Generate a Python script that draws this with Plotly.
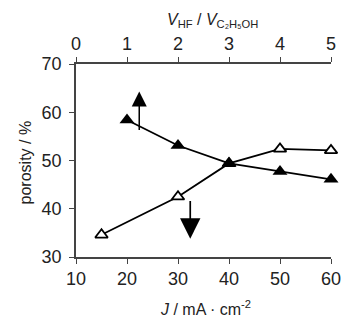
import plotly.graph_objects as go

# Data
J_hollow = [15, 30, 40, 50, 60]            # bottom axis, J / mA cm^-2
porosity_hollow = [34.6, 42.5, 49.4, 52.4, 52.1]
V_ratio_filled = [1, 2, 3, 4, 5]           # top axis, V_HF / V_C2H5OH
porosity_filled = [58.4, 53.1, 49.4, 47.7, 46.1]

x_ticks_bottom = [10, 20, 30, 40, 50, 60]
x_ticks_top = [0, 1, 2, 3, 4, 5]
y_ticks = [30, 40, 50, 60, 70]

FONT = "Liberation Sans Narrow, Arial Narrow, Liberation Sans, Arial, sans-serif"

fig = go.Figure()
fig.add_trace(go.Scatter(
    x=J_hollow, y=porosity_hollow, mode="lines+markers",
    line=dict(color="black", width=1.8),
    marker=dict(symbol="triangle-up", size=11, color="white",
                line=dict(color="black", width=1.8)),
    xaxis="x", yaxis="y", showlegend=False, cliponaxis=False))
fig.add_trace(go.Scatter(
    x=V_ratio_filled, y=porosity_filled, mode="lines+markers",
    line=dict(color="black", width=1.8),
    marker=dict(symbol="triangle-up", size=13, color="black",
                line=dict(color="black", width=0)),
    xaxis="x2", yaxis="y", showlegend=False, cliponaxis=False))

# arrows indicating which axis each series belongs to
fig.add_annotation(x=22.4, y=64.3, ax=22.4, ay=56.0, xref="x", yref="y",
                   axref="x", ayref="y", text="", showarrow=True,
                   arrowhead=2, arrowsize=2.0, arrowwidth=1.5, arrowcolor="black")
fig.add_annotation(x=32.4, y=33.8, ax=32.4, ay=41.9, xref="x", yref="y",
                   axref="x", ayref="y", text="", showarrow=True,
                   arrowhead=2, arrowsize=2.4, arrowwidth=1.7, arrowcolor="black")

# axis titles
title_font = dict(family=FONT, size=16, color="#222")
fig.add_annotation(text="<i>J</i> / mA · cm<sup>-2</sup>", xref="paper", yref="paper",
                   x=0.506, y=0, yshift=-51, xanchor="center", yanchor="middle",
                   showarrow=False, font=title_font)
fig.add_annotation(text="<i>V</i><sub>HF</sub> / <i>V</i><sub>C₂H₅OH</sub>",
                   xref="paper", yref="paper", x=0.537, y=1, yshift=44,
                   xanchor="center", yanchor="middle", showarrow=False, font=title_font)
fig.add_annotation(text="porosity / %", xref="paper", yref="paper",
                   x=0, xshift=-51, y=0.49, textangle=-90,
                   xanchor="center", yanchor="middle", showarrow=False, font=title_font)

axis_common = dict(showline=True, linecolor="#444", linewidth=1.5,
                   ticks="outside", ticklen=5, tickwidth=1.2, tickcolor="#444",
                   showgrid=False, zeroline=False, automargin=False,
                   tickfont=dict(family=FONT, size=18, color="#222"))

# the page body adds an 8px offset, so the figure is 8px smaller with margins adjusted
fig.update_layout(
    width=347, height=315,
    margin=dict(l=68, r=24, t=56, b=66),
    paper_bgcolor="white", plot_bgcolor="white",
    font=dict(family=FONT, color="#222"),
    xaxis=dict(range=[10, 60], tickvals=x_ticks_bottom, **axis_common),
    xaxis2=dict(range=[0, 5], tickvals=x_ticks_top, overlaying="x", side="top",
                anchor="y", **axis_common),
    yaxis=dict(range=[30, 70], tickvals=y_ticks, ticklabelstandoff=4, **axis_common),
)

fig.write_html("out.html")
